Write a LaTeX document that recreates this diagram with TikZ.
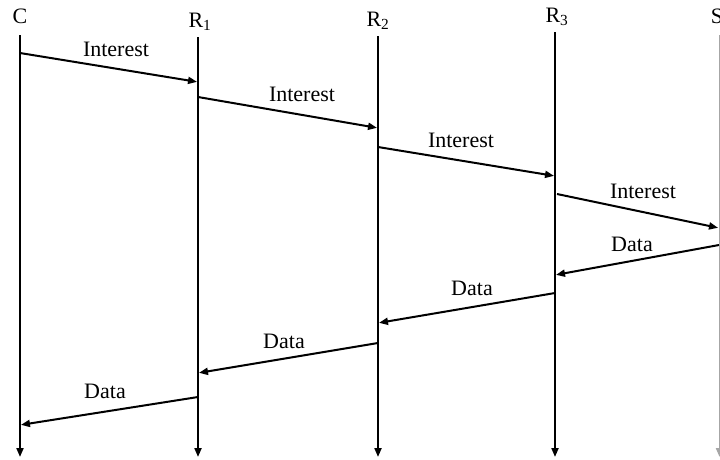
\documentclass[tikz,border=0pt]{standalone}
\usepackage{fontspec}
\setmainfont{Liberation Serif}
\usetikzlibrary{arrows.meta}
\begin{document}
\begin{tikzpicture}[x=1pt,y=-1pt,
  lifeline/.style={line width=2pt,-{Triangle[length=9pt,width=7pt]}},
  msg/.style={line width=2pt,-{Triangle[length=9pt,width=7pt]},shorten >=1pt},
  every node/.style={font=\fontsize{22}{26}\selectfont,inner sep=0pt}]
\useasboundingbox (0,0) rectangle (720,459);
% entities
\node[anchor=base] (C)  at (20,23)  {C};
\node[anchor=base] (R1) at (200,27) {R\textsubscript{1}};
\node[anchor=base] (R2) at (378,26) {R\textsubscript{2}};
\node[anchor=base] (R3) at (557,22) {R\textsubscript{3}};
\node[anchor=base] (S)  at (717,23) {S};
% lifelines
\coordinate (Ct) at (20,35);    \coordinate (Cb) at (20,457);
\coordinate (R1t) at (198,37);  \coordinate (R1b) at (198,457);
\coordinate (R2t) at (378,36);  \coordinate (R2b) at (378,457);
\coordinate (R3t) at (555,32);  \coordinate (R3b) at (555,457);
\coordinate (St) at (719.5,35); \coordinate (Sb) at (719.5,457);
\draw[lifeline] (Ct) -- (Cb);
\draw[lifeline] (R1t) -- (R1b);
\draw[lifeline] (R2t) -- (R2b);
\draw[lifeline] (R3t) -- (R3b);
\draw[lifeline,gray!70] (St) -- (Sb);
% interest packets
\coordinate (i1a) at (20,53);   \coordinate (i1b) at (198,82);
\coordinate (i2a) at (198,97);  \coordinate (i2b) at (378,128);
\coordinate (i3a) at (378,147); \coordinate (i3b) at (555,176);
\coordinate (i4a) at (557,194); \coordinate (i4b) at (719,228);
\draw[msg] (i1a) -- (i1b);
\draw[msg] (i2a) -- (i2b);
\draw[msg] (i3a) -- (i3b);
\draw[msg] (i4a) -- (i4b);
\node (li1) at (116,49)  {Interest};
\node (li2) at (302,94)  {Interest};
\node (li3) at (461,140) {Interest};
\node (li4) at (643,191) {Interest};
% data packets
\coordinate (d1a) at (719,245); \coordinate (d1b) at (555,275);
\coordinate (d2a) at (555,293); \coordinate (d2b) at (378,323);
\coordinate (d3a) at (378,343); \coordinate (d3b) at (198,373);
\coordinate (d4a) at (198,397); \coordinate (d4b) at (20,425);
\draw[msg] (d1a) -- (d1b);
\draw[msg] (d2a) -- (d2b);
\draw[msg] (d3a) -- (d3b);
\draw[msg] (d4a) -- (d4b);
\node (ld1) at (632,244) {Data};
\node (ld2) at (472,288) {Data};
\node (ld3) at (284,341) {Data};
\node (ld4) at (105,391) {Data};
\end{tikzpicture}
\end{document}
